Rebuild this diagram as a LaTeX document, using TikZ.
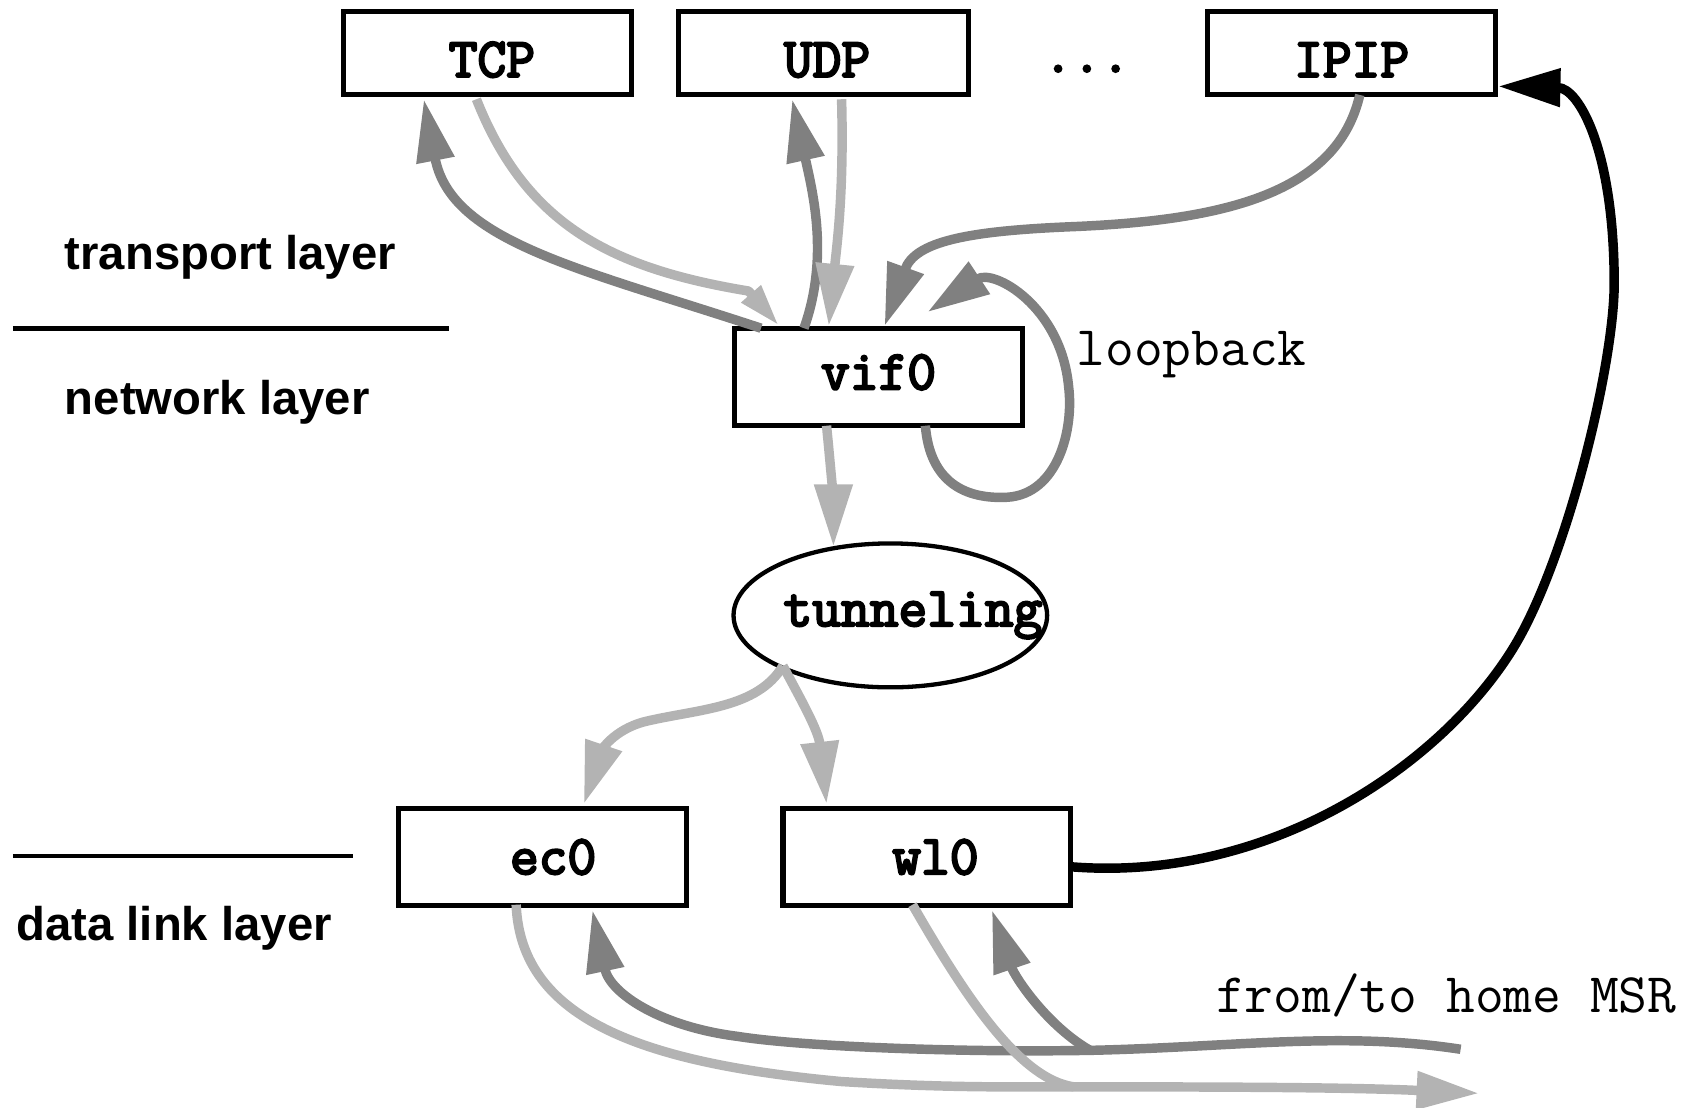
\documentclass[tikz,border=0pt]{standalone}
\usepackage{fontspec}
\setmainfont{Liberation Sans}
\newfontfamily\tbold{Latin Modern Mono}[FakeBold=4]
\usetikzlibrary{arrows.meta,shapes.geometric,calc}
\definecolor{darkg}{RGB}{128,128,128}
\definecolor{lightg}{RGB}{179,179,179}
\begin{document}
\begin{tikzpicture}[x=0.5pt,y=-0.5pt,
  boldmono/.style={font=\tbold\fontsize{26}{30}\selectfont},
  box/.style={draw,line width=2.4pt,fill=white,inner sep=0pt,minimum width=134pt,boldmono},
  topbox/.style={box,minimum height=38.5pt,text height=22pt,text depth=0pt},
  layerlabel/.style={anchor=base west,inner sep=0pt,font=\bfseries\fontsize{22}{26}\selectfont},
  note/.style={anchor=base west,inner sep=0pt,font=\ttfamily\fontsize{26}{30}\selectfont},
  rule/.style={line width=2.2pt},
  flow/.style={line width=4.4pt,line cap=butt,line join=round},
  dk/.style={flow,draw=darkg},
  lt/.style={flow,draw=lightg},
  bk/.style={flow,draw=black},
  tip/.style={-{Triangle[length=29pt,width=17pt]}},
  smalltip/.style={-{Triangle[length=20pt,width=11pt]}}]
\useasboundingbox (0,0) rectangle (1568,1031);

% nodes
\node[topbox] (tcp) at (454,49.5) {\hspace{4pt}TCP};
\node[topbox,minimum width=135pt] (udp) at (767,49.5) {\hspace{3pt}UDP};
\node[inner sep=0pt,boldmono] (dots) at (1012,64) {...};
\node[topbox] (ipip) at (1258.5,49.5) {IPIP};
\node[box,minimum height=45pt,text height=17pt,text depth=5.5pt] (vif) at (818,351) {vif0\hspace{11pt}};
\node[draw,ellipse,line width=2pt,inner sep=0pt,minimum width=146pt,minimum height=67pt,
  label={[boldmono,xshift=10.5pt]center:tunneling}] (tun) at (829,573) {};
\node[box,minimum height=45pt] (ec) at (505,798) {\hspace{10pt}ec0};
\node[box,minimum height=45pt] (wl) at (863,798) {\hspace{8pt}wl0};

% layer labels and rules
\node[layerlabel] (tl) at (60,251) {transport layer};
\node[layerlabel] (nl) at (60,386) {network layer};
\node[layerlabel] (dl) at (15,876) {data link layer};
\draw[rule] (12,306) coordinate (r1a) -- (418,306) coordinate (r1b);
\draw[rule] (12,797) coordinate (r2a) -- (329,797) coordinate (r2b);
\node[note] (lb) at (1002,340) {loopback};
\node[note] (home) at (1132,943) {from/to home MSR};

% free ends
\coordinate (inR) at (1360,977);
\coordinate (J) at (1015,978);
\coordinate (m1) at (1000,1012);
\coordinate (outR) at (1377,1018);

% TCP
\draw[dk,tip] ($(vif.north west)+(27,2)$) .. controls (540,250) and (420,225) .. ($(tcp.south west)+(77,2)$);
\draw[lt,smalltip] ($(tcp.south west)+(126,2)$) .. controls (490,210) and (570,250) .. (697,271) -- ($(vif.north west)+(44,0)$);
% UDP
\draw[dk,tip] ($(vif.north west)+(67,2)$) .. controls (772,240) and (757,180) .. ($(udp.south west)+(108,2)$);
\draw[lt,tip] ($(udp.south west)+(154,2)$) .. controls (786,180) and (779,230) .. ($(vif.north west)+(90,0)$);
% IPIP
\draw[dk,tip] ($(ipip.south west)+(144,-2)$) .. controls (1245,180) and (1140,205) .. (1000,211)
   .. controls (900,215) and (852,225) .. ($(vif.north west)+(142,0)$);
% loopback
\draw[dk,tip] ($(vif.south west)+(180,-2)$) .. controls (866,450) and (900,465) .. (938,463)
   .. controls (985,460) and (1000,400) .. (995,360)
   .. controls (988,285) and (925,250) .. ($(vif.north west)+(182,-13)$);
% vif0 -> tunneling
\draw[lt,tip] ($(vif.south west)+(88,-2)$) .. controls (774,440) and (776,470) .. ($(tun.center)+(-53,-64)$);
% tunneling -> ec0 / wl0
\draw[lt,tip] ($(tun.center)+(-100,47)$) .. controls (705,660) and (650,660) .. (600,672)
   .. controls (570,680) and (560,700) .. ($(ec.north west)+(175,-2)$);
\draw[lt,tip] ($(tun.center)+(-100,47)$) .. controls (745,650) and (762,680) .. ($(wl.north west)+(43,-2)$);
% wl0 -> IPIP
\draw[bk,tip] ($(wl.east)+(-3,9)$) .. controls (1180,822) and (1340,714) .. (1408,605)
   .. controls (1458,525) and (1503,340) .. (1503,264)
   .. controls (1503,140) and (1470,82) .. ($(ipip.south east)+(0,-10)$);
% incoming from home MSR
\draw[dk,tip] (inR) .. controls (1250,960) and (1150,975) .. (J)
   .. controls (900,980) and (750,975) .. (687,965)
   .. controls (615,956) and (568,925) .. ($(ec.south west)+(183,2)$);
\draw[dk,tip] (J) .. controls (975,955) and (945,910) .. ($(wl.south west)+(197,2)$);
% outgoing to home MSR
\draw[lt,tip] ($(ec.south west)+(112,-3)$) .. controls (485,950) and (600,990) .. (783,1007)
   .. controls (880,1013) and (940,1012) .. (m1)
   .. controls (1100,1012) and (1250,1012) .. (outR);
\draw[lt] ($(wl.south west)+(123,-3)$) .. controls (900,930) and (950,1005) .. (m1);
\end{tikzpicture}
\end{document}
